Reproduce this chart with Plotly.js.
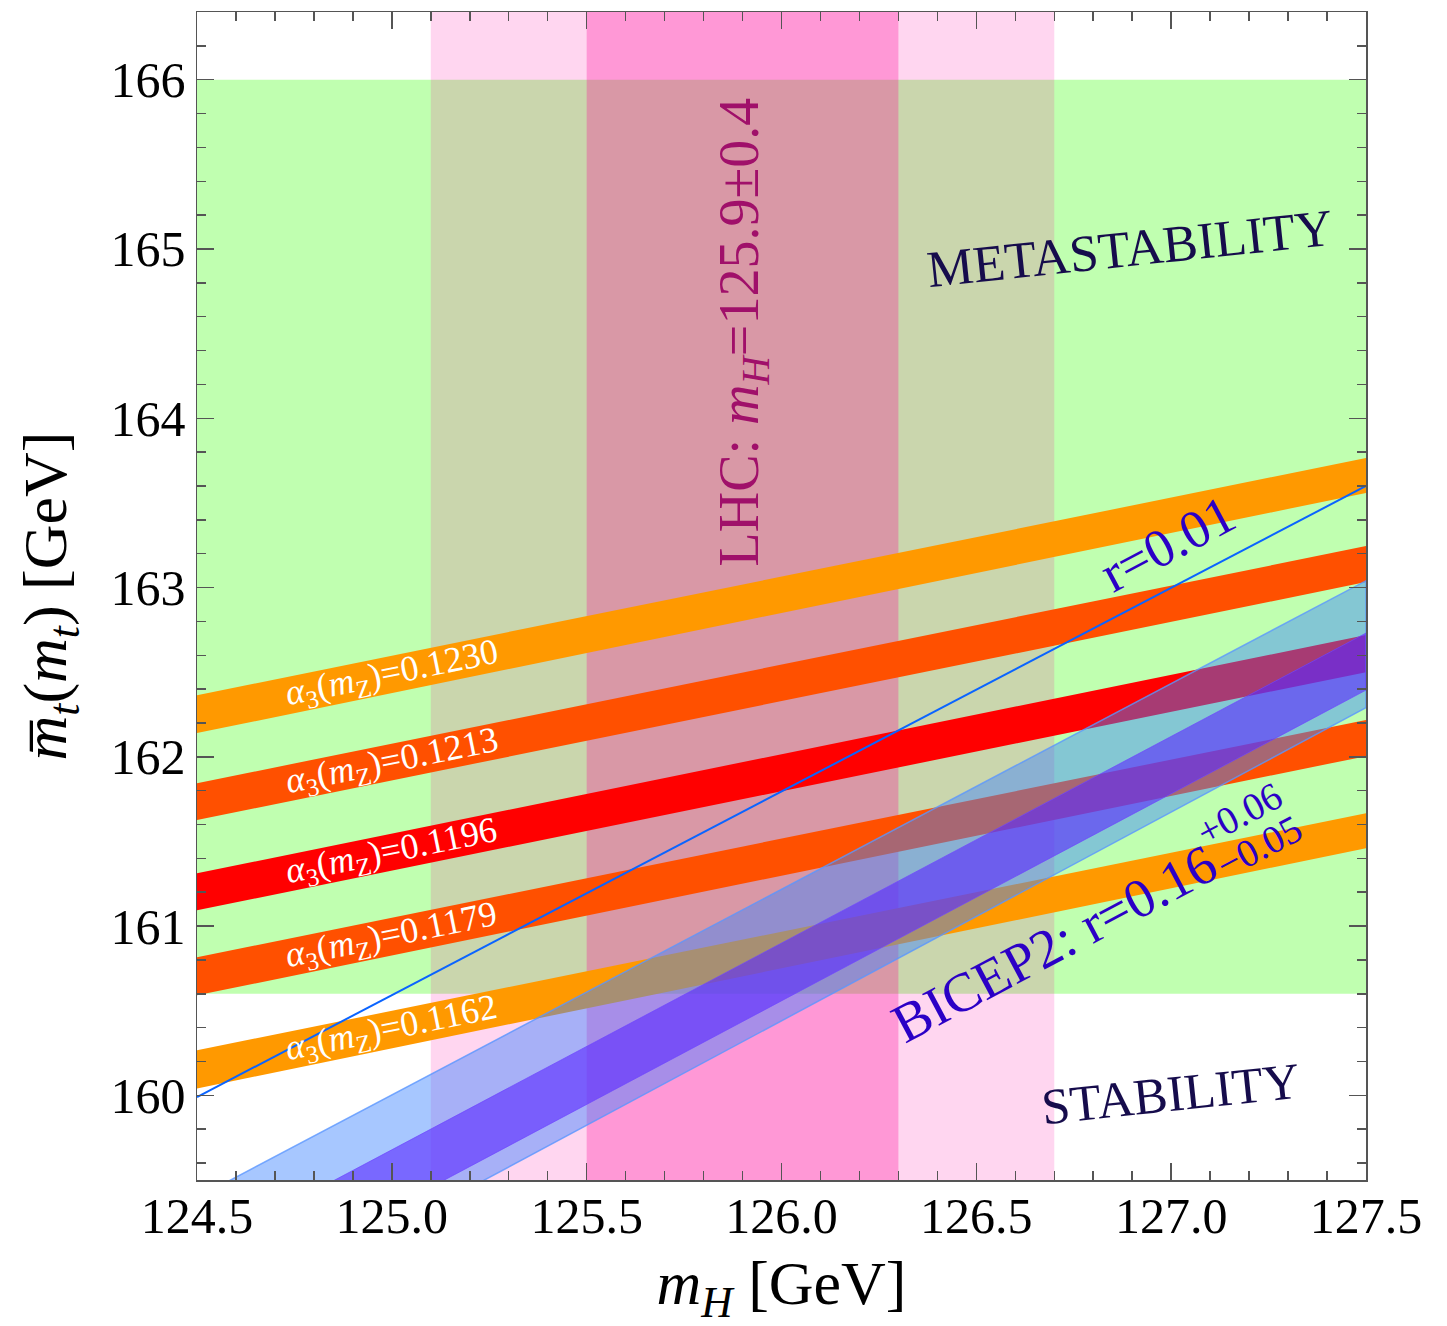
<!DOCTYPE html>
<html>
<head>
<meta charset="utf-8">
<script src="https://cdn.plot.ly/plotly-3.0.1.min.js"></script>
<style>html,body{margin:0;padding:0;background:#fff;}#chart{width:1447px;height:1326px;}</style>
</head>
<body>
<div id="chart"></div>
<script>
// ---------------- data ----------------
const mHRange = [124.5, 127.5];              // m_H end points of every band [GeV]
const mtRange = [159.5, 166.4];              // top-mass axis range [GeV]

// alpha_3(m_Z) bands: edges of each band at m_H = 124.5 and 127.5
const alphaLabels = ['0.1230', '0.1213', '0.1196', '0.1179', '0.1162'];
const bandLoLeft  = [162.140, 161.626, 161.093, 160.591, 160.041];
const bandHiLeft  = [162.364, 161.844, 161.312, 160.816, 160.266];
const bandLoRight = [163.559, 163.032, 162.500, 162.004, 161.460];
const bandHiRight = [163.765, 163.245, 162.719, 162.217, 161.667];

// r = 0.01 line (mt at m_H = 124.5 and 127.5)
const rLineMt = [159.99, 163.60];

// BICEP2 bands (mt at m_H = 124.5 and 127.5)
const bicepOuterHi = [159.395, 163.040];
const bicepOuterLo = [158.590, 162.290];
const bicepInnerHi = [159.068, 162.731];
const bicepInnerLo = [158.723, 162.394];

// LHC Higgs mass measurement
const lhcCentral = 125.9;
const lhcErr = [0.4, 0.8];

// metastability region (mt range)
const metaRegion = [160.6, 166.0];

// ---------------- styles ----------------
const FONT = '"Liberation Serif", "Times New Roman", serif';
const bandColors = ['#ff9900', '#ff5000', '#ff0000', '#ff5000', '#ff9900'];
const AXC = '#555555';

const traces = [];
alphaLabels.forEach((lab, i) => {
  traces.push({
    type: 'scatter', mode: 'lines', fill: 'toself',
    x: [mHRange[0], mHRange[1], mHRange[1], mHRange[0], mHRange[0]],
    y: [bandLoLeft[i], bandLoRight[i], bandHiRight[i], bandHiLeft[i], bandLoLeft[i]],
    fillcolor: bandColors[i], line: {width: 0, color: bandColors[i]},
    hoverinfo: 'skip', showlegend: false, name: 'α3(mZ)=' + lab
  });
});
traces.push({
  type: 'scatter', mode: 'lines', fill: 'toself',
  x: [mHRange[0], mHRange[1], mHRange[1], mHRange[0], mHRange[0]],
  y: [bicepOuterLo[0], bicepOuterLo[1], bicepOuterHi[1], bicepOuterHi[0], bicepOuterLo[0]],
  fillcolor: 'rgba(60,130,255,0.45)', line: {width: 1.5, color: 'rgba(90,150,255,0.8)'},
  hoverinfo: 'skip', showlegend: false, name: 'BICEP2 outer'
});
traces.push({
  type: 'scatter', mode: 'lines', fill: 'toself',
  x: [mHRange[0], mHRange[1], mHRange[1], mHRange[0], mHRange[0]],
  y: [bicepInnerLo[0], bicepInnerLo[1], bicepInnerHi[1], bicepInnerHi[0], bicepInnerLo[0]],
  fillcolor: 'rgba(90,40,255,0.6)', line: {width: 1, color: 'rgba(110,70,255,0.7)'},
  hoverinfo: 'skip', showlegend: false, name: 'BICEP2 inner'
});
traces.push({
  type: 'scatter', mode: 'lines',
  x: mHRange, y: rLineMt,
  line: {width: 2, color: '#0a64ff'},
  hoverinfo: 'skip', showlegend: false, name: 'r=0.01'
});

const shapes = [
  {type: 'rect', layer: 'below', xref: 'x', yref: 'y', x0: mHRange[0], x1: mHRange[1], y0: metaRegion[0], y1: metaRegion[1],
   fillcolor: '#c0ffb0', line: {width: 0}},
  {type: 'rect', layer: 'below', xref: 'x', yref: 'y', x0: lhcCentral - lhcErr[1], x1: lhcCentral + lhcErr[1], y0: mtRange[0], y1: mtRange[1],
   fillcolor: 'rgba(255,0,161,0.16)', line: {width: 0}},
  {type: 'rect', layer: 'below', xref: 'x', yref: 'y', x0: lhcCentral - lhcErr[0], x1: lhcCentral + lhcErr[0], y0: mtRange[0], y1: mtRange[1],
   fillcolor: 'rgba(255,0,150,0.285)', line: {width: 0}}
];

const annotations = [];
const xLab = 125.0;
alphaLabels.forEach((lab, i) => {
  const f = (xLab - mHRange[0]) / (mHRange[1] - mHRange[0]);
  const yc = ((bandLoLeft[i] + bandHiLeft[i]) / 2) * (1 - f) + ((bandLoRight[i] + bandHiRight[i]) / 2) * f;
  annotations.push({
    xref: 'x', yref: 'y', x: xLab, y: yc, showarrow: false, textangle: -11.5,
    xanchor: 'center', yanchor: 'middle',
    text: '<i>α</i><sub>3</sub>(<i>m</i><sub>Z</sub>)=' + lab,
    font: {family: FONT, size: 36, color: '#ffffff'}
  });
});
annotations.push(
  {xref: 'x', yref: 'y', x: 126.894, y: 165.0, showarrow: false, textangle: -6,
   text: 'METASTABILITY', font: {family: FONT, size: 52, color: '#160c4c'}},
  {xref: 'x', yref: 'y', x: 126.997, y: 160.01, showarrow: false, textangle: -6,
   text: 'STABILITY', font: {family: FONT, size: 51, color: '#160c4c'}},
  {xref: 'x', yref: 'y', x: 125.9, y: 164.51, showarrow: false, textangle: -90,
   text: 'LHC: <i>m</i><sub><i>H</i></sub>=125.9±0.4', font: {family: FONT, size: 56, color: '#a0106a'}},
  {xref: 'x', yref: 'y', x: 126.99, y: 163.26, showarrow: false, textangle: -28,
   text: 'r=0.01', font: {family: FONT, size: 54, color: '#2b00c6'}},
  {xref: 'x', yref: 'y', x: 126.70, y: 160.90, showarrow: false, textangle: -28,
   text: 'BICEP2: r=0.16', font: {family: FONT, size: 55, color: '#2b00c6'}},
  {xref: 'x', yref: 'y', x: 127.175, y: 161.665, showarrow: false, textangle: -28,
   text: '+0.06', font: {family: FONT, size: 39, color: '#2b00c6'}},
  {xref: 'x', yref: 'y', x: 127.225, y: 161.47, showarrow: false, textangle: -28,
   text: '−0.05', font: {family: FONT, size: 39, color: '#2b00c6'}}
);

const axisCommon = {
  showgrid: false, zeroline: false, showline: true, linecolor: AXC, linewidth: 1.5,
  mirror: 'allticks', ticks: 'inside', ticklen: 17, tickwidth: 1.5, tickcolor: AXC,
  tickfont: {family: FONT, size: 50, color: '#000'}, automargin: false
};

const layout = {
  width: 1447, height: 1326,
  margin: {l: 197, r: 81, t: 12, b: 146},
  paper_bgcolor: '#ffffff', plot_bgcolor: '#ffffff',
  showlegend: false,
  xaxis: Object.assign({}, axisCommon, {
    range: mHRange, tick0: 124.5, dtick: 0.5, tickformat: '.1f', ticklabelstandoff: -9,
    minor: {ticks: 'inside', dtick: 0.1, tick0: 124.5, ticklen: 9, tickwidth: 1.5, tickcolor: AXC, showgrid: false},
    title: {text: '<i>m</i><sub><i>H</i></sub> [GeV]', font: {family: FONT, size: 62, color: '#000'}, standoff: 36}
  }),
  yaxis: Object.assign({}, axisCommon, {
    range: mtRange, tick0: 160, dtick: 1,
    minor: {ticks: 'inside', dtick: 0.2, tick0: 160, ticklen: 9, tickwidth: 1.5, tickcolor: AXC, showgrid: false},
    title: {text: '<i>m\u0305</i><sub><i>t</i></sub>(<i>m</i><sub><i>t</i></sub>) [GeV]', font: {family: FONT, size: 62, color: '#000'}, standoff: 24}
  }),
  shapes: shapes,
  annotations: annotations
};

Plotly.newPlot('chart', traces, layout, {displayModeBar: false, staticPlot: true});
</script>
</body>
</html>
